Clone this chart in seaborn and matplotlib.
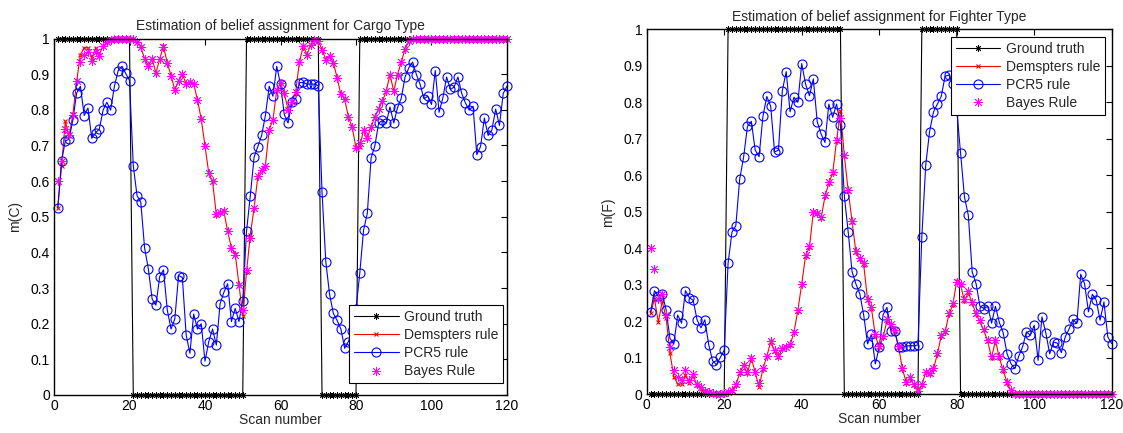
import matplotlib
matplotlib.use('Agg')
import matplotlib.pyplot as plt
from matplotlib.ticker import FuncFormatter, MultipleLocator
import numpy as np
import pandas as pd
import seaborn as sns

scan = list(range(1, 121))

# ground truth (1 = the target is that type)
cargo_truth = [1, 1, 1, 1, 1, 1, 1, 1, 1, 1, 1, 1, 1, 1, 1, 1, 1, 1, 1, 1,
               0, 0, 0, 0, 0, 0, 0, 0, 0, 0, 0, 0, 0, 0, 0, 0, 0, 0, 0, 0,
               0, 0, 0, 0, 0, 0, 0, 0, 0, 0, 1, 1, 1, 1, 1, 1, 1, 1, 1, 1,
               1, 1, 1, 1, 1, 1, 1, 1, 1, 1, 0, 0, 0, 0, 0, 0, 0, 0, 0, 0,
               1, 1, 1, 1, 1, 1, 1, 1, 1, 1, 1, 1, 1, 1, 1, 1, 1, 1, 1, 1,
               1, 1, 1, 1, 1, 1, 1, 1, 1, 1, 1, 1, 1, 1, 1, 1, 1, 1, 1, 1]
fighter_truth = [0, 0, 0, 0, 0, 0, 0, 0, 0, 0, 0, 0, 0, 0, 0, 0, 0, 0, 0, 0,
                 1, 1, 1, 1, 1, 1, 1, 1, 1, 1, 1, 1, 1, 1, 1, 1, 1, 1, 1, 1,
                 1, 1, 1, 1, 1, 1, 1, 1, 1, 1, 0, 0, 0, 0, 0, 0, 0, 0, 0, 0,
                 0, 0, 0, 0, 0, 0, 0, 0, 0, 0, 1, 1, 1, 1, 1, 1, 1, 1, 1, 1,
                 0, 0, 0, 0, 0, 0, 0, 0, 0, 0, 0, 0, 0, 0, 0, 0, 0, 0, 0, 0,
                 0, 0, 0, 0, 0, 0, 0, 0, 0, 0, 0, 0, 0, 0, 0, 0, 0, 0, 0, 0]

cargo_dempster = [0.525, 0.641, 0.768, 0.726, 0.787, 0.880, 0.955, 0.974, 0.974, 0.945,
                  0.973, 0.955, 0.980, 0.990, 0.997, 1.000, 1.000, 1.000, 1.000, 1.000,
                  0.998, 0.990, 0.976, 0.943, 0.924, 0.943, 0.903, 0.943, 0.978, 0.932,
                  0.896, 0.856, 0.880, 0.900, 0.873, 0.877, 0.873, 0.828, 0.774, 0.699,
                  0.622, 0.599, 0.506, 0.510, 0.515, 0.459, 0.412, 0.396, 0.309, 0.223,
                  0.345, 0.450, 0.524, 0.613, 0.632, 0.643, 0.744, 0.772, 0.855, 0.875,
                  0.847, 0.800, 0.821, 0.849, 0.933, 0.978, 0.955, 0.983, 0.997, 0.993,
                  0.969, 0.941, 0.952, 0.932, 0.890, 0.843, 0.829, 0.780, 0.751, 0.693,
                  0.697, 0.744, 0.721, 0.752, 0.780, 0.802, 0.824, 0.852, 0.899, 0.852,
                  0.899, 0.934, 0.971, 0.992, 1.000, 1.000, 1.000, 1.000, 1.000, 1.000,
                  1.000, 1.000, 1.000, 1.000, 1.000, 1.000, 1.000, 1.000, 1.000, 1.000,
                  1.000, 1.000, 1.000, 1.000, 1.000, 1.000, 1.000, 1.000, 1.000, 1.000]
cargo_pcr5 = [0.525, 0.657, 0.712, 0.718, 0.772, 0.847, 0.866, 0.784, 0.805, 0.720,
              0.735, 0.746, 0.799, 0.821, 0.799, 0.866, 0.910, 0.922, 0.902, 0.882,
              0.643, 0.559, 0.540, 0.412, 0.353, 0.269, 0.252, 0.332, 0.351, 0.239,
              0.185, 0.213, 0.335, 0.330, 0.169, 0.117, 0.227, 0.185, 0.200, 0.095,
              0.150, 0.185, 0.140, 0.256, 0.288, 0.312, 0.206, 0.243, 0.206, 0.265,
              0.459, 0.559, 0.667, 0.697, 0.728, 0.784, 0.866, 0.838, 0.922, 0.871,
              0.787, 0.763, 0.821, 0.830, 0.876, 0.877, 0.872, 0.872, 0.872, 0.868,
              0.569, 0.374, 0.282, 0.229, 0.209, 0.185, 0.131, 0.150, 0.180, 0.240,
              0.342, 0.462, 0.510, 0.665, 0.699, 0.763, 0.770, 0.763, 0.808, 0.763,
              0.806, 0.833, 0.892, 0.918, 0.934, 0.899, 0.871, 0.831, 0.838, 0.815,
              0.910, 0.793, 0.833, 0.892, 0.857, 0.864, 0.892, 0.846, 0.819, 0.799,
              0.810, 0.674, 0.697, 0.777, 0.728, 0.744, 0.802, 0.756, 0.846, 0.866]
cargo_bayes = [0.600, 0.657, 0.745, 0.730, 0.786, 0.882, 0.934, 0.955, 0.962, 0.936,
               0.962, 0.950, 0.978, 0.990, 0.997, 1.000, 1.000, 1.000, 1.000, 1.000,
               0.998, 0.990, 0.976, 0.943, 0.924, 0.943, 0.903, 0.943, 0.975, 0.932,
               0.896, 0.856, 0.880, 0.900, 0.873, 0.877, 0.873, 0.828, 0.774, 0.699,
               0.622, 0.599, 0.508, 0.512, 0.516, 0.459, 0.412, 0.393, 0.309, 0.239,
               0.351, 0.440, 0.524, 0.613, 0.632, 0.643, 0.744, 0.772, 0.855, 0.875,
               0.847, 0.800, 0.821, 0.849, 0.933, 0.978, 0.955, 0.983, 0.997, 0.993,
               0.969, 0.941, 0.952, 0.932, 0.890, 0.843, 0.829, 0.780, 0.751, 0.693,
               0.707, 0.744, 0.721, 0.752, 0.780, 0.802, 0.824, 0.852, 0.899, 0.852,
               0.899, 0.934, 0.971, 0.992, 1.000, 1.000, 1.000, 1.000, 1.000, 1.000,
               1.000, 1.000, 1.000, 1.000, 1.000, 1.000, 1.000, 1.000, 1.000, 1.000,
               1.000, 1.000, 1.000, 1.000, 1.000, 1.000, 1.000, 1.000, 1.000, 1.000]

fighter_dempster = [0.222, 0.262, 0.197, 0.255, 0.210, 0.113, 0.048, 0.028, 0.028, 0.053,
                    0.030, 0.050, 0.025, 0.015, 0.008, 0.004, 0.002, 0.001, 0.001, 0.003,
                    0.005, 0.010, 0.025, 0.058, 0.079, 0.058, 0.099, 0.060, 0.020, 0.070,
                    0.104, 0.144, 0.120, 0.103, 0.125, 0.129, 0.135, 0.170, 0.229, 0.302,
                    0.380, 0.403, 0.499, 0.496, 0.482, 0.542, 0.579, 0.606, 0.695, 0.777,
                    0.654, 0.558, 0.473, 0.389, 0.370, 0.355, 0.259, 0.235, 0.161, 0.129,
                    0.156, 0.202, 0.190, 0.172, 0.130, 0.069, 0.032, 0.045, 0.025, 0.008,
                    0.025, 0.060, 0.055, 0.069, 0.110, 0.160, 0.170, 0.220, 0.245, 0.310,
                    0.300, 0.255, 0.280, 0.250, 0.220, 0.200, 0.175, 0.145, 0.100, 0.148,
                    0.100, 0.065, 0.032, 0.010, 0.002, 0.000, 0.000, 0.000, 0.000, 0.000,
                    0.000, 0.000, 0.000, 0.000, 0.000, 0.000, 0.000, 0.000, 0.000, 0.000,
                    0.000, 0.000, 0.000, 0.000, 0.000, 0.000, 0.000, 0.000, 0.000, 0.000]
fighter_pcr5 = [0.225, 0.284, 0.268, 0.275, 0.232, 0.153, 0.138, 0.217, 0.195, 0.284,
                0.265, 0.257, 0.204, 0.182, 0.204, 0.136, 0.092, 0.081, 0.101, 0.121,
                0.359, 0.444, 0.462, 0.590, 0.649, 0.734, 0.748, 0.669, 0.651, 0.762,
                0.816, 0.789, 0.664, 0.669, 0.832, 0.884, 0.774, 0.814, 0.800, 0.906,
                0.850, 0.818, 0.864, 0.747, 0.713, 0.690, 0.795, 0.759, 0.795, 0.738,
                0.544, 0.444, 0.336, 0.302, 0.275, 0.217, 0.138, 0.165, 0.083, 0.129,
                0.218, 0.238, 0.174, 0.174, 0.129, 0.129, 0.133, 0.133, 0.133, 0.135,
                0.432, 0.627, 0.720, 0.773, 0.795, 0.816, 0.871, 0.875, 0.850, 0.780,
                0.661, 0.541, 0.490, 0.335, 0.303, 0.241, 0.235, 0.241, 0.195, 0.241,
                0.197, 0.168, 0.111, 0.084, 0.070, 0.104, 0.130, 0.171, 0.162, 0.189,
                0.093, 0.212, 0.168, 0.111, 0.143, 0.140, 0.114, 0.157, 0.179, 0.205,
                0.194, 0.329, 0.303, 0.226, 0.274, 0.258, 0.203, 0.253, 0.157, 0.139]
fighter_bayes = [0.400, 0.342, 0.262, 0.276, 0.216, 0.130, 0.066, 0.048, 0.040, 0.066,
                 0.040, 0.055, 0.028, 0.020, 0.010, 0.006, 0.003, 0.002, 0.002, 0.004,
                 0.006, 0.012, 0.028, 0.060, 0.080, 0.060, 0.100, 0.062, 0.031, 0.072,
                 0.106, 0.146, 0.122, 0.105, 0.128, 0.130, 0.137, 0.172, 0.232, 0.303,
                 0.382, 0.405, 0.500, 0.496, 0.485, 0.545, 0.582, 0.608, 0.697, 0.756,
                 0.655, 0.560, 0.476, 0.392, 0.374, 0.360, 0.262, 0.240, 0.165, 0.132,
                 0.160, 0.205, 0.193, 0.175, 0.133, 0.072, 0.035, 0.048, 0.027, 0.010,
                 0.027, 0.062, 0.058, 0.071, 0.114, 0.163, 0.173, 0.222, 0.250, 0.308,
                 0.302, 0.260, 0.283, 0.253, 0.222, 0.203, 0.180, 0.150, 0.104, 0.150,
                 0.104, 0.068, 0.034, 0.011, 0.002, 0.000, 0.000, 0.000, 0.000, 0.000,
                 0.000, 0.000, 0.000, 0.000, 0.000, 0.000, 0.000, 0.000, 0.000, 0.000,
                 0.000, 0.000, 0.000, 0.000, 0.000, 0.000, 0.000, 0.000, 0.000, 0.000]

sns.set_style('white')
plt.rcParams['font.family'] = ['Liberation Sans', 'DejaVu Sans']
plt.rcParams['font.size'] = 10

asterisk = (8, 2, 0)


def draw_panel(ax, truth, dempster, pcr5, bayes, title, ylab, legend_loc, legend_anchor):
    df = pd.DataFrame({'scan': scan, 'truth': truth, 'dempster': dempster,
                       'pcr5': pcr5, 'bayes': bayes})
    sns.lineplot(data=df, x='scan', y='truth', ax=ax, color='black', lw=0.8,
                 marker=asterisk, markersize=4.5, mew=0.6, mec='black',
                 label='Ground truth', clip_on=False)
    sns.lineplot(data=df, x='scan', y='dempster', ax=ax, color='red', lw=0.8,
                 marker='x', markersize=3.5, mew=0.8, mec='red',
                 label='Demspters rule', clip_on=False)
    sns.lineplot(data=df, x='scan', y='pcr5', ax=ax, color='blue', lw=0.8,
                 marker='o', markersize=6.5, mfc='none', mew=0.8, mec='blue',
                 label='PCR5 rule', clip_on=False)
    sns.lineplot(data=df, x='scan', y='bayes', ax=ax, color='magenta', linestyle='none',
                 marker=asterisk, markersize=6.5, mew=0.6, mec='magenta',
                 label='Bayes Rule', clip_on=False)

    ax.set_xlim(0, 120)
    ax.set_ylim(0, 1)
    ax.xaxis.set_major_locator(MultipleLocator(20))
    ax.yaxis.set_major_locator(MultipleLocator(0.1))
    ax.yaxis.set_major_formatter(FuncFormatter(
        lambda v, p: '0' if abs(v) < 1e-9 else ('1' if abs(v - 1) < 1e-9 else f'{v:.1f}')))
    ax.tick_params(direction='in', top=True, right=True, length=4, width=0.8,
                   labelsize=10, pad=3, colors='black')
    for sp in ax.spines.values():
        sp.set_color('black')
        sp.set_linewidth(1.0)
    ax.set_title(title, fontsize=10, pad=6)
    ax.set_xlabel('Scan number', fontsize=10, labelpad=0)
    ax.set_ylabel(ylab, fontsize=10, labelpad=6)
    leg = ax.legend(loc=legend_loc, bbox_to_anchor=legend_anchor,
                    bbox_transform=fig.transFigure, borderaxespad=0,
                    fancybox=False, edgecolor='black', framealpha=1,
                    fontsize=10, handlelength=3.2, handletextpad=0.4,
                    labelspacing=0.3, borderpad=0.35, numpoints=1)
    leg.get_frame().set_linewidth(0.8)
    leg.set_zorder(10)


fig = plt.figure(figsize=(11.23, 4.33), dpi=100)
ax1 = fig.add_axes([54 / 1123, 38 / 433, 453 / 1123, 356.5 / 433])
ax2 = fig.add_axes([646.7 / 1123, 38.7 / 433, 465 / 1123, 365 / 433])

draw_panel(ax1, cargo_truth, cargo_dempster, cargo_pcr5, cargo_bayes,
           'Estimation of belief assignment for Cargo Type', 'm(C)',
           'lower right', (503.3 / 1123, (433 - 383.3) / 433))
draw_panel(ax2, fighter_truth, fighter_dempster, fighter_pcr5, fighter_bayes,
           'Estimation of belief assignment for Fighter Type', 'm(F)',
           'upper right', (1105 / 1123, (433 - 36.7) / 433))

fig.savefig('out.png', dpi=100, facecolor='white')
